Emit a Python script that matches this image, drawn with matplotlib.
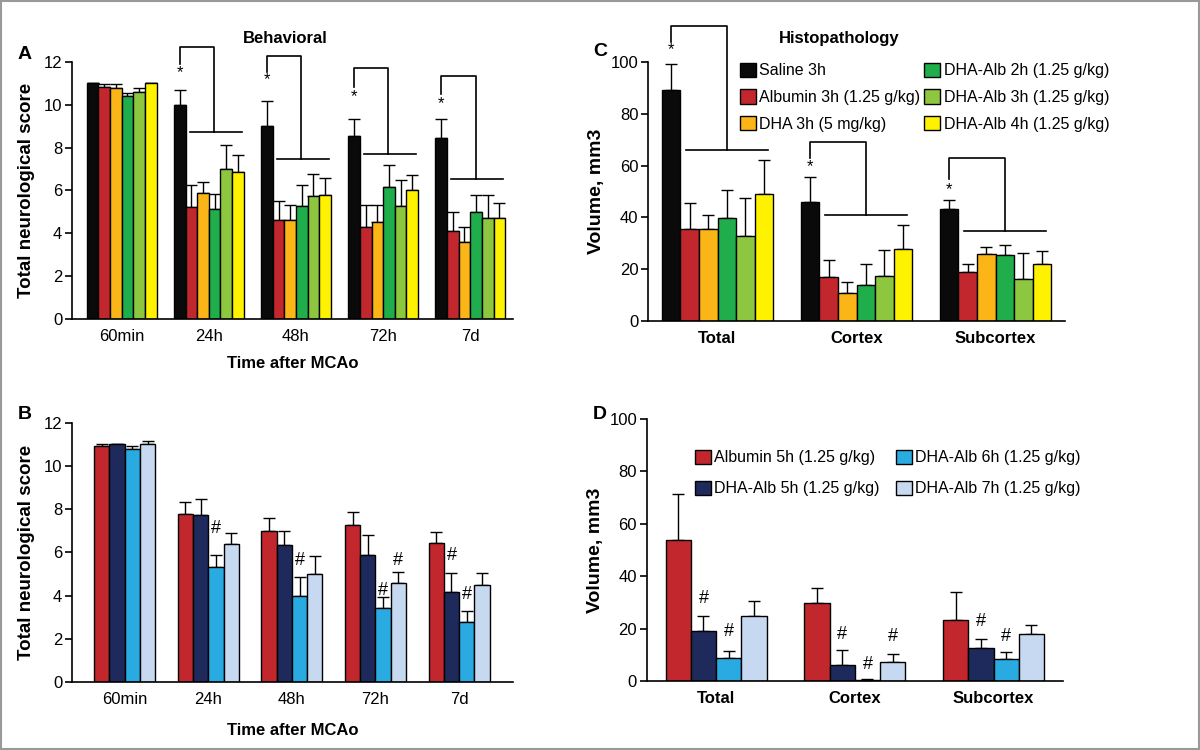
import matplotlib
matplotlib.use("Agg")
import matplotlib.pyplot as plt
from matplotlib.patches import Patch, Rectangle
import numpy as np

plt.rcParams['font.family'] = ['Liberation Sans', 'DejaVu Sans']

# ---- data ----
times = ["60min", "24h", "48h", "72h", "7d"]
regions = ["Total", "Cortex", "Subcortex"]

c_names = ["Saline 3h", "Albumin 3h (1.25 g/kg)", "DHA 3h (5 mg/kg)",
           "DHA-Alb 2h (1.25 g/kg)", "DHA-Alb 3h (1.25 g/kg)", "DHA-Alb 4h (1.25 g/kg)"]
c_colors = ["#0a0a0a", "#c1272d", "#fbb516", "#1fae4b", "#8dc63f", "#fff200"]

d_names = ["Albumin 5h (1.25 g/kg)", "DHA-Alb 5h (1.25 g/kg)",
           "DHA-Alb 6h (1.25 g/kg)", "DHA-Alb 7h (1.25 g/kg)"]
d_colors = ["#c1272d", "#1f2a5c", "#29abe2", "#c6d9f0"]

# panel A: mean, upper error top (per group, per series)
a_mean = [[11.0, 10.85, 10.8, 10.4, 10.6, 11.0],
          [10.0, 5.25, 5.9, 5.15, 7.0, 6.88],
          [9.03, 4.63, 4.6, 5.28, 5.72, 5.77],
          [8.52, 4.29, 4.52, 6.16, 5.28, 6.02],
          [8.46, 4.13, 3.6, 5.0, 4.73, 4.73]]
a_top = [[11.0, 10.95, 10.95, 10.55, 10.8, 11.0],
         [10.7, 6.26, 6.4, 5.85, 8.1, 7.66],
         [10.18, 5.53, 5.3, 6.26, 6.78, 6.6],
         [9.33, 5.32, 5.3, 7.18, 6.47, 6.73],
         [9.34, 5.0, 4.29, 5.78, 5.78, 5.41]]
a_bracket_top = [None, 12.72, 12.28, 11.7, 11.36]
a_bracket_low = [None, 8.75, 7.46, 7.7, 6.55]
a_star = [None, 11.5, 11.16, 10.38, 10.07]

# panel B
b_mean = [[10.92, 11.02, 10.81, 11.02],
          [7.77, 7.74, 5.34, 6.4],
          [7.0, 6.35, 4.0, 5.0],
          [7.26, 5.87, 3.44, 4.58],
          [6.44, 4.18, 2.77, 4.5]]
b_top = [[11.04, 11.02, 10.95, 11.18],
         [8.33, 8.49, 5.88, 6.89],
         [7.59, 7.0, 4.85, 5.85],
         [7.87, 6.8, 3.95, 5.11],
         [6.95, 5.06, 3.3, 5.03]]
# (group, series, y) for '#'
b_hash = [(1, 2, 7.12), (2, 2, 5.65), (3, 2, 4.26), (3, 3, 5.65), (4, 1, 5.85), (4, 2, 4.07)]

# panel C
c_mean = [[89.2, 35.6, 35.6, 39.9, 32.7, 49.0],
          [45.8, 16.9, 10.8, 14.0, 17.2, 27.7],
          [43.1, 18.8, 25.7, 25.4, 16.2, 22.1]]
c_top = [[99.2, 45.4, 41.0, 50.7, 47.4, 62.2],
         [55.6, 23.6, 14.9, 21.9, 27.3, 36.9],
         [46.6, 22.0, 28.4, 29.2, 26.1, 27.2]]
c_bracket_top = [113.9, 69.1, 62.8]
c_bracket_low = [66.0, 40.9, 34.7]
c_star = [104.6, 59.6, 50.8]

# panel D
d_mean = [[53.9, 18.9, 8.7, 25.0],
          [29.9, 6.1, 0.4, 7.1],
          [23.2, 12.7, 8.5, 18.0]]
d_top = [[71.5, 24.8, 11.5, 30.6],
         [35.5, 11.8, 0.6, 10.3],
         [34.0, 15.9, 11.2, 21.5]]
d_hash = [(0, 1, 31.6), (0, 2, 18.9), (1, 1, 17.8), (1, 2, 6.4), (1, 3, 16.9), (2, 1, 22.9), (2, 2, 16.9)]


def bars(ax, means, tops, colors, width):
    n = len(colors)
    means = np.array(means)
    tops = np.array(tops)
    x = np.arange(len(means))
    for j in range(n):
        pos = x + (j - (n - 1) / 2) * width
        err = np.clip(tops[:, j] - means[:, j], 0, None)
        ax.bar(pos, means[:, j], width, color=colors[j], edgecolor="black", linewidth=1.0, zorder=2)
        ax.errorbar(pos, means[:, j], yerr=[np.zeros_like(err), err], fmt="none",
                    ecolor="black", elinewidth=1.0, capsize=4, capthick=1.0, zorder=1)
    return x


def style(ax):
    ax.spines["top"].set_visible(False)
    ax.spines["right"].set_visible(False)
    ax.spines["left"].set_linewidth(1.2)
    ax.spines["bottom"].set_linewidth(1.2)
    ax.tick_params(axis="x", length=0, labelsize=12, pad=7)
    ax.tick_params(axis="y", direction="out", length=5, width=1.2, labelsize=12, pad=2)


def bracket(ax, xc, width, top, low, star, off_r, lo0, lo1):
    xl = xc - 2.5 * width
    xr = xc + off_r
    ax.plot([xl, xl, xr, xr], [star + (top - star) * 0.35, top, top, low],
            color="black", lw=1.2, clip_on=False)
    ax.plot([xc + lo0, xc + lo1], [low, low], color="black", lw=1.2, clip_on=False)
    ax.text(xl, star, "*", ha="center", va="center", fontsize=12)


fig = plt.figure(figsize=(12, 7.5), dpi=100)

# ---- A ----
axA = fig.add_axes([0.06, 0.5747, 0.3675, 0.3427])
w6 = 0.8 / 6
x = bars(axA, a_mean, a_top, c_colors, w6)
for i in range(1, 5):
    bracket(axA, x[i], w6, a_bracket_top[i], a_bracket_low[i], a_star[i], 0.06, -0.22, 0.38)
axA.set_xlim(-0.57, 4.49)
axA.set_ylim(0, 12)
axA.set_yticks(range(0, 13, 2))
axA.set_xticks(x)
axA.set_xticklabels(times)
axA.set_ylabel("Total neurological score", fontsize=13.5, fontweight="bold", labelpad=6)
axA.set_xlabel("Time after MCAo", fontsize=12, fontweight="bold", labelpad=9)
style(axA)

# ---- B ----
axB = fig.add_axes([0.06, 0.0907, 0.3675, 0.3453])
w4 = 0.73 / 4
x = bars(axB, b_mean, b_top, d_colors, w4)
for g, s, y in b_hash:
    axB.text(x[g] + (s - 1.5) * w4, y, "#", ha="center", va="center", fontsize=13)
axB.set_xlim(-0.63, 4.645)
axB.set_ylim(0, 12)
axB.set_yticks(range(0, 13, 2))
axB.set_xticks(x)
axB.set_xticklabels(times)
axB.set_ylabel("Total neurological score", fontsize=13.5, fontweight="bold", labelpad=6)
axB.set_xlabel("Time after MCAo", fontsize=12, fontweight="bold", labelpad=12)
style(axB)

# ---- C ----
axC = fig.add_axes([0.54, 0.572, 0.3475, 0.3453])
x = bars(axC, c_mean, c_top, c_colors, w6)
for i in range(3):
    bracket(axC, x[i], w6, c_bracket_top[i], c_bracket_low[i], c_star[i], 0.07, -0.23, 0.36)
axC.set_xlim(-0.5, 2.5)
axC.set_ylim(0, 100)
axC.set_yticks(range(0, 101, 20))
axC.set_xticks(x)
axC.set_xticklabels(regions, fontweight="bold")
axC.set_ylabel("Volume, mm3", fontsize=14, fontweight="bold", labelpad=4)
style(axC)
handles = [Patch(facecolor=c, edgecolor="black", label=n) for c, n in zip(c_colors, c_names)]
fig.legend(handles=handles, ncol=2, loc="upper left", bbox_to_anchor=(0.6115, 0.925),
           frameon=False, fontsize=11.5, handlelength=1.0, handleheight=1.0,
           handletextpad=0.2, columnspacing=0.25, labelspacing=0.69, borderaxespad=0)

# ---- D ----
axD = fig.add_axes([0.539, 0.092, 0.3467, 0.3493])
x = bars(axD, d_mean, d_top, d_colors, w4)
for g, s, y in d_hash:
    axD.text(x[g] + (s - 1.5) * w4, y, "#", ha="center", va="center", fontsize=13)
axD.set_xlim(-0.5, 2.5)
axD.set_ylim(0, 100)
axD.set_yticks(range(0, 101, 20))
axD.set_xticks(x)
axD.set_xticklabels(regions, fontweight="bold")
axD.set_ylabel("Volume, mm3", fontsize=14, fontweight="bold", labelpad=4)
style(axD)
handles = [Patch(facecolor=c, edgecolor="black", label=n) for c, n in zip(d_colors, d_names)]
fig.legend(handles=handles, ncol=2, loc="upper left", bbox_to_anchor=(0.574, 0.409),
           frameon=False, fontsize=11.5, handlelength=1.0, handleheight=1.0,
           handletextpad=0.2, columnspacing=1.0, labelspacing=0.97, borderaxespad=0)

# titles and panel letters
fig.text(0.2375, 0.949, "Behavioral", ha="center", va="center", fontsize=12, fontweight="bold")
fig.text(0.699, 0.949, "Histopathology", ha="center", va="center", fontsize=12, fontweight="bold")
for lx, ly, t in [(0.015, 0.927, "A"), (0.494, 0.931, "C"), (0.015, 0.447, "B"), (0.494, 0.447, "D")]:
    fig.text(lx, ly, t, ha="left", va="center", fontsize=14, fontweight="bold")

fig.patches.append(Rectangle((0.001, 0.001), 0.998, 0.998, transform=fig.transFigure,
                             fill=False, edgecolor="#999999", linewidth=1.5))

fig.savefig("out.png", dpi=100)
